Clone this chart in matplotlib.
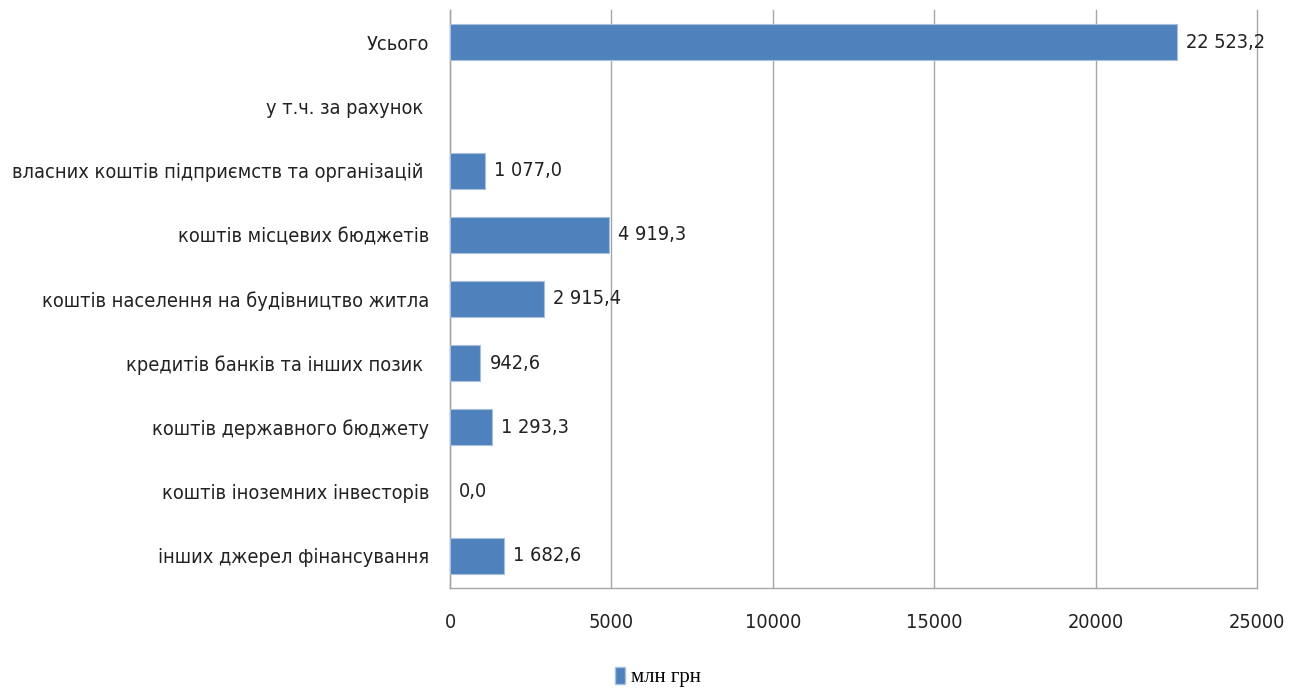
import matplotlib
matplotlib.use("Agg")
import matplotlib.pyplot as plt
from matplotlib.patches import Patch

categories = [
    "Усього",
    "у т.ч. за рахунок ",
    "власних коштів підприємств та організацій ",
    "коштів місцевих бюджетів",
    "коштів населення на будівництво житла",
    "кредитів банків та інших позик ",
    "коштів державного бюджету",
    "коштів іноземних інвесторів",
    "інших джерел фінансування",
]
values = [22523.2, None, 1077.0, 4919.3, 2915.4, 942.6, 1293.3, 0.0, 1682.6]
value_labels = ["22 523,2", "", "1 077,0", "4 919,3", "2 915,4", "942,6", "1 293,3", "0,0", "1 682,6"]
xticks = [0, 5000, 10000, 15000, 20000, 25000]
series_name = "млн грн"

BAR = "#4f81bd"
GRID = "#a6a6a6"
FONT = dict(family="DejaVu Sans", stretch="condensed")
FS = 14.3

fig = plt.figure(figsize=(12.98, 6.93), dpi=100)
ax = fig.add_axes([450/1298, 1 - 588/693, 807/1298, 578/693])

n = len(categories)
ypos = list(range(n))
bar_y = [y for y, v in zip(ypos, values) if v]
bar_v = [v for v in values if v]
ax.barh(bar_y, bar_v, height=0.56, color=BAR, edgecolor="#a7c0de", linewidth=0.8, zorder=3)
ax.set_ylim(n - 0.5, -0.5)
ax.set_xlim(0, 25000)
ax.set_xticks(xticks)
ax.set_xticklabels([str(t) for t in xticks], fontsize=FS, color="#222222", **FONT)
ax.set_yticks(ypos)
ax.set_yticklabels(categories, fontsize=FS, color="#222222", **FONT)
ax.tick_params(axis="both", length=0)
ax.tick_params(axis="x", pad=18)
ax.tick_params(axis="y", pad=15)
for t in xticks:
    ax.axvline(t, color=GRID, linewidth=1, zorder=0, clip_on=False)
ax.spines["top"].set_visible(False)
ax.spines["right"].set_visible(False)
for s in ["left", "bottom"]:
    ax.spines[s].set_color(GRID)
    ax.spines[s].set_linewidth(1)

for y, v, lab in zip(ypos, values, value_labels):
    if v is None:
        continue
    ax.annotate(lab, (v, y), xytext=(6.5, 0), textcoords="offset points",
                ha="left", va="center", fontsize=FS, color="#222222", **FONT)

fig.legend(handles=[Patch(facecolor=BAR, edgecolor="#a7c0de")], labels=[series_name],
           loc="center", bbox_to_anchor=(658/1298, 1 - 677/693), frameon=False,
           handlelength=0.45, handleheight=0.9, handletextpad=0.3,
           prop=dict(family="Liberation Serif", size=15))

fig.savefig("out.png", dpi=100)
